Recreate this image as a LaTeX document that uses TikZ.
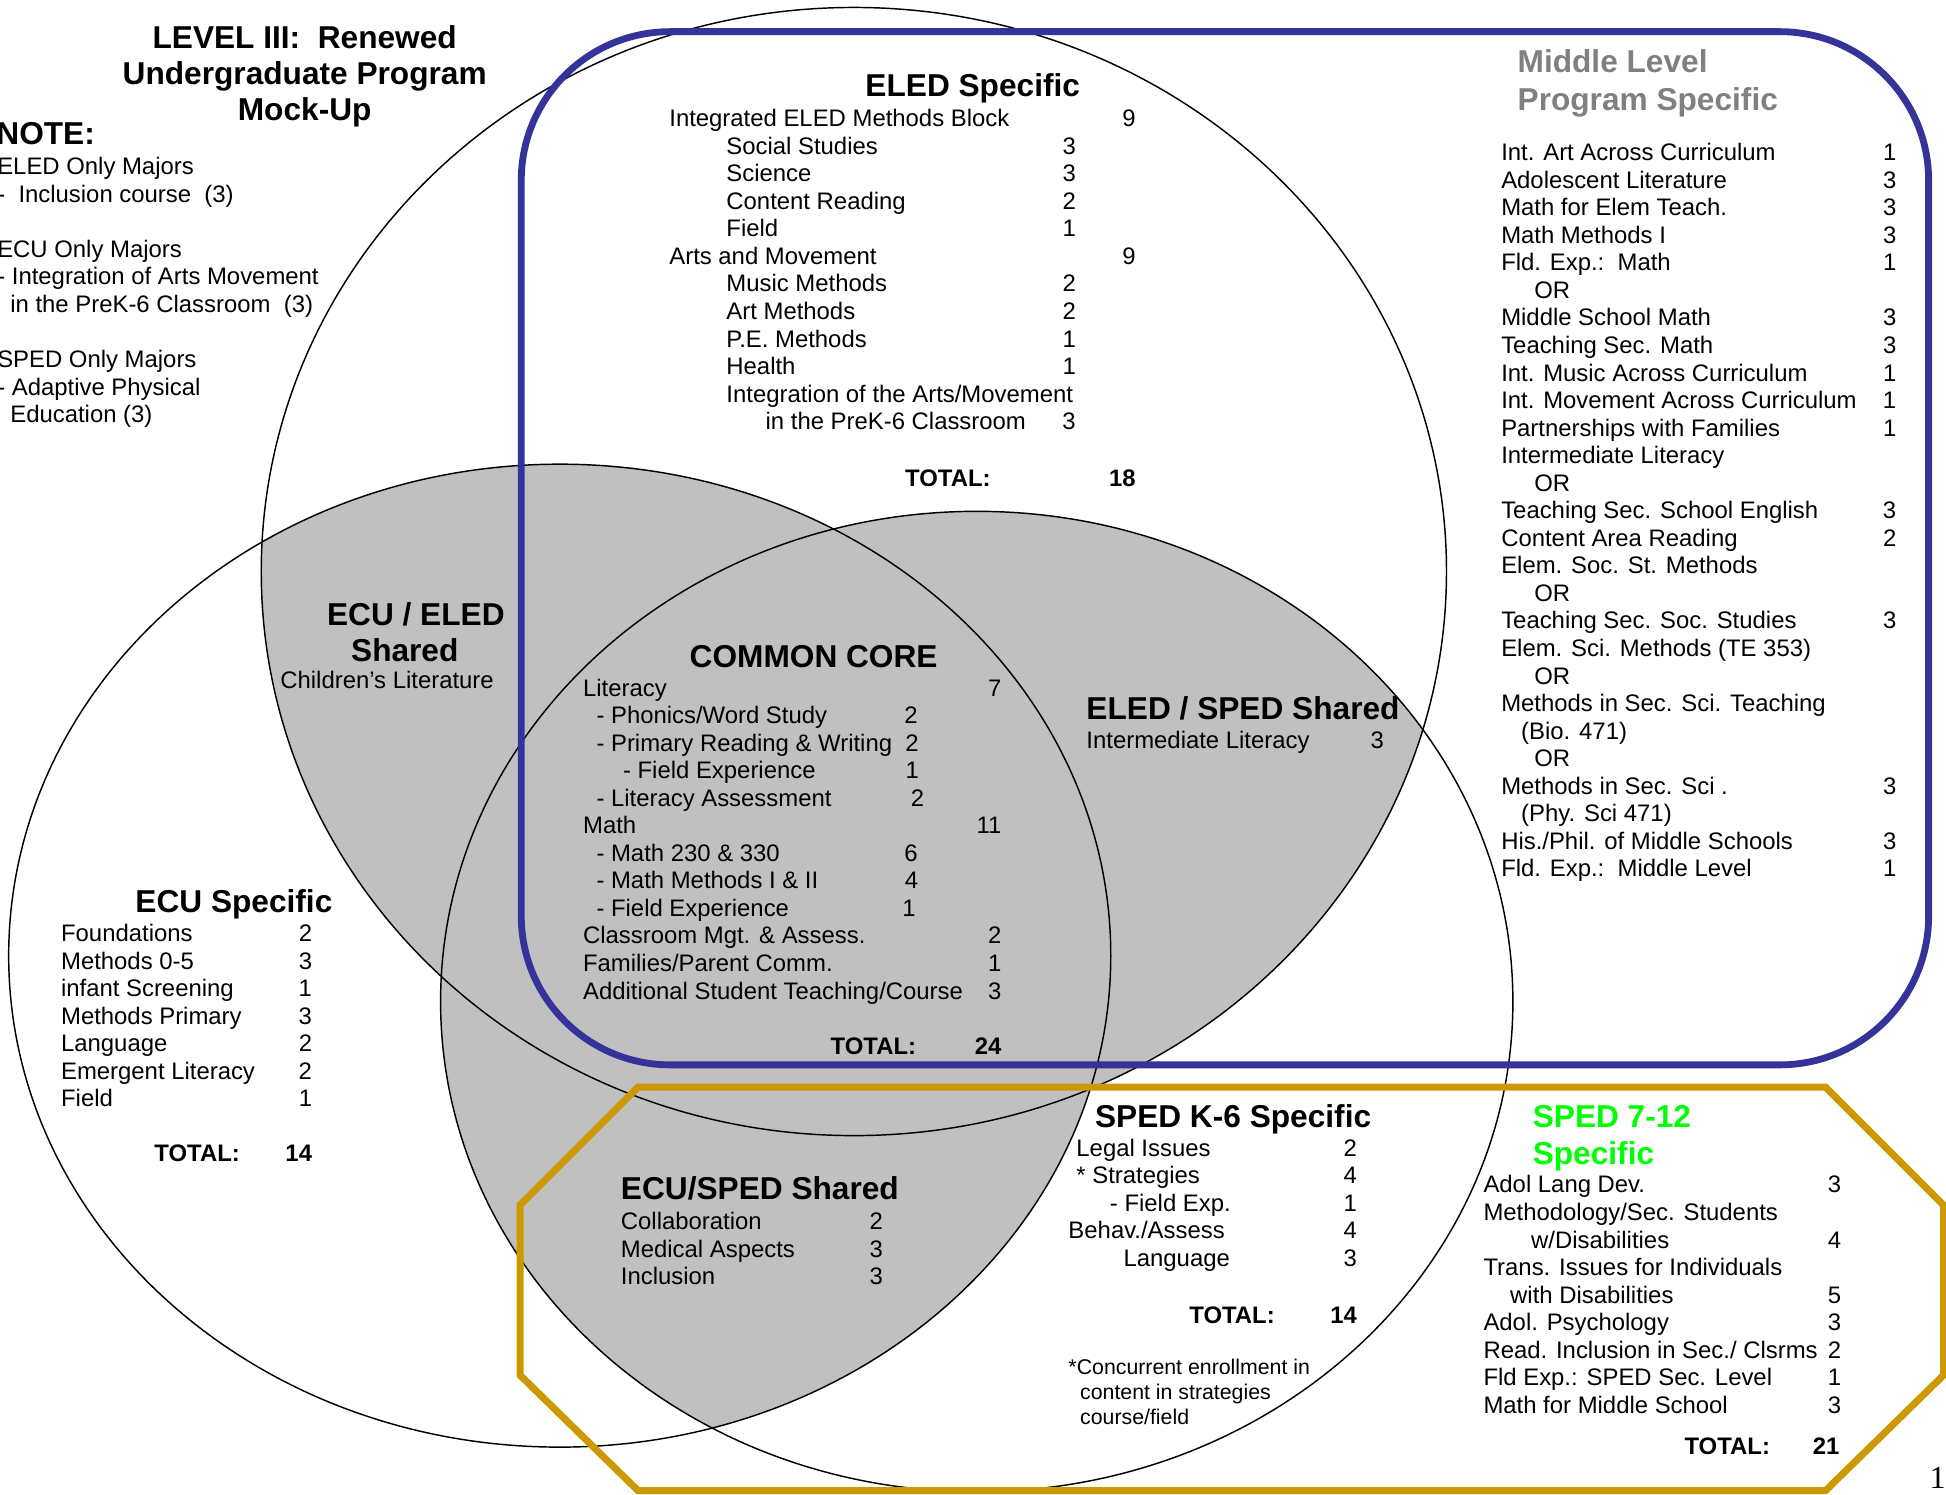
\documentclass[tikz,border=0pt]{standalone}
\usepackage{fontspec}
\setmainfont{Liberation Sans}
\newfontfamily\serifnum{Liberation Serif}
\definecolor{vblue}{RGB}{51,51,153}
\definecolor{vgold}{RGB}{204,153,0}
\definecolor{vgray}{RGB}{192,192,192}
\definecolor{vgreen}{RGB}{0,255,0}
\definecolor{mgray}{RGB}{128,128,128}
\newdimen\uu \uu=0.6pt
\newcommand\RowN[4]{\hbox to #3\uu{\hspace*{#1\uu}#2\hfil #4}}
\newcommand\RowT[2]{\hbox{\hspace*{#1\uu}#2}}
\newcommand\CtrL[1]{\hbox to 0pt{\hss #1\hss}}
\newcommand\bodyfont{\fontsize{11.55pt}{13.32pt}\selectfont}
\newcommand\titlefont{\fontsize{15.3pt}{17.3pt}\selectfont\bfseries}
\tikzset{
  circ/.style={draw=black, line width=0.7pt},
  blk/.style={anchor=base west, inner sep=0pt, font=\bodyfont, yshift=-0.6pt},
  ttl/.style={anchor=base west, inner sep=0pt, font=\titlefont, yshift=-1.2pt},
  tot/.style={anchor=base west, inner sep=0pt, font=\bodyfont\bfseries, yshift=-1.5pt},
  blueline/.style={draw=vblue, line width=3.3pt},
  goldline/.style={draw=vgold, line width=3.4pt, line join=miter},
}
\begin{document}
\begin{tikzpicture}[x=0.6pt, y=-0.6pt]
\useasboundingbox (0,0) rectangle (1568,1204);
% shaded pairwise intersections
\begin{scope}
  \clip (688,460.5) ellipse [x radius=477.5, y radius=454.5];
  \fill[vgray] (451,770) ellipse [x radius=444, y radius=396];
  \fill[vgray] (787,807) ellipse [x radius=432, y radius=395];
\end{scope}
\begin{scope}
  \clip (451,770) ellipse [x radius=444, y radius=396];
  \fill[vgray] (787,807) ellipse [x radius=432, y radius=395];
\end{scope}
% circles
\draw[circ] (688,460.5) ellipse [x radius=477.5, y radius=454.5];
\draw[circ] (451,770) ellipse [x radius=444, y radius=396];
\draw[circ] (787,807) ellipse [x radius=432, y radius=395];
% blue rounded box and gold octagon
\draw[blueline, rounded corners=72pt] (420,25.5) rectangle (1554,858);
\draw[goldline] (514,876) -- (1471,876) -- (1566,971) -- (1566,1108) -- (1471,1201) -- (514,1201) -- (419,1108) -- (419,971) -- cycle;

% top-left title and note
\node[anchor=base, inner sep=0pt, font=\titlefont, yshift=-1pt] (title) at (245.5,37.6)
  {\vtop{\CtrL{LEVEL III:\ \ Renewed}\CtrL{Undergraduate Program}\CtrL{Mock-Up}}};
\node[ttl] (note) at (-3.2,114.2) {NOTE:};
\node[blk] (notes) at (-2.5,139.7) {\vtop{%
  \RowT{0}{ELED Only Majors}
  \RowT{0}{-\ \ Inclusion course\ \ (3)}
  \hbox{}
  \RowT{0}{ECU Only Majors}
  \RowT{0}{- Integration of Arts Movement}
  \RowT{10.5}{in the PreK-6 Classroom\ \ (3)}
  \hbox{}
  \RowT{0}{SPED Only Majors}
  \RowT{0}{- Adaptive Physical}
  \RowT{10.5}{Education (3)}}};

% ELED specific
\node[ttl] (eledT) at (697,75.5) {ELED Specific};
\node[blk] (eledL) at (539,101) {\vtop{%
  \RowN{0}{Integrated ELED Methods Block}{375.7}{9}
  \RowN{46}{Social Studies}{327.5}{3}
  \RowN{46}{Science}{327.5}{3}
  \RowN{46}{Content Reading}{327.5}{2}
  \RowN{46}{Field}{327.5}{1}
  \RowN{0}{Arts and Movement}{375.7}{9}
  \RowN{46}{Music Methods}{327.5}{2}
  \RowN{46}{Art Methods}{327.5}{2}
  \RowN{46}{P.E. Methods}{327.5}{1}
  \RowN{46}{Health}{327.5}{1}
  \RowT{46}{Integration of the Arts/Movement}
  \RowN{77.6}{in the PreK-6 Classroom}{327.5}{3}}};
\node[tot] (eledTot) at (729,389.7) {\hbox to 185.7\uu{TOTAL:\hfil 18}};

% Middle level
\node[ttl, text=mgray] (midT) at (1222.5,56.4)
  {\vtop{\baselineskip=18.5pt\hbox{Middle Level}\hbox{Program Specific}}};
\node[blk] (midL) at (1209.3,128.4) {\vtop{%
  \RowN{0}{Int. Art Across Curriculum}{318.3}{1}
  \RowN{0}{Adolescent Literature}{318.3}{3}
  \RowN{0}{Math for Elem Teach.}{318.3}{3}
  \RowN{0}{Math Methods I}{318.3}{3}
  \RowN{0}{Fld. Exp.:\ \ Math}{318.3}{1}
  \RowT{26.7}{OR}
  \RowN{0}{Middle School Math}{318.3}{3}
  \RowN{0}{Teaching Sec. Math}{318.3}{3}
  \RowN{0}{Int. Music Across Curriculum}{318.3}{1}
  \RowN{0}{Int. Movement Across Curriculum}{318.3}{1}
  \RowN{0}{Partnerships with Families}{318.3}{1}
  \RowT{0}{Intermediate Literacy}
  \RowT{26.7}{OR}
  \RowN{0}{Teaching Sec. School English}{318.3}{3}
  \RowN{0}{Content Area Reading}{318.3}{2}
  \RowT{0}{Elem. Soc. St. Methods}
  \RowT{26.7}{OR}
  \RowN{0}{Teaching Sec. Soc. Studies}{318.3}{3}
  \RowT{0}{Elem. Sci. Methods (TE 353)}
  \RowT{26.7}{OR}
  \RowT{0}{Methods in Sec. Sci. Teaching}
  \RowT{16.1}{(Bio. 471)}
  \RowT{26.7}{OR}
  \RowN{0}{Methods in Sec. Sci .}{318.3}{3}
  \RowT{16.1}{(Phy. Sci 471)}
  \RowN{0}{His./Phil. of Middle Schools}{318.3}{3}
  \RowN{0}{Fld. Exp.:\ \ Middle Level}{318.3}{1}}};

% ECU / ELED shared
\node[ttl] (ecueledT) at (263.2,502)
  {\vtop{\hbox{ECU / ELED}\hbox{\hspace*{19.4\uu}Shared}}};
\node[blk] (ecueledL) at (225.6,554) {Children’s Literature};

% Common core
\node[ttl] (coreT) at (555.4,535.6) {COMMON CORE};
\node[blk] (coreL) at (469.5,559.8) {\vtop{%
  \RowN{0}{Literacy}{337.1}{7}
  \RowN{10.8}{- Phonics/Word Study}{269.5}{2}
  \RowN{10.8}{- Primary Reading \& Writing}{270.5}{2}
  \RowN{32.2}{- Field Experience}{270.5}{1}
  \RowN{10.8}{- Literacy Assessment}{274.8}{2}
  \RowN{0}{Math}{337.1}{11}
  \RowN{10.8}{- Math 230 \& 330}{269.5}{6}
  \RowN{10.8}{- Math Methods I \& II}{270}{4}
  \RowN{10.8}{- Field Experience}{268}{1}
  \RowN{0}{Classroom Mgt. \& Assess.}{337.1}{2}
  \RowN{0}{Families/Parent Comm.}{337.1}{1}
  \RowN{0}{Additional Student Teaching/Course}{337.1}{3}}};
\node[tot] (coreTot) at (669,847.2) {\hbox to 137.6\uu{TOTAL:\hfil 24}};

% ELED / SPED shared
\node[ttl] (eledspedT) at (875.1,578) {ELED / SPED Shared};
\node[blk] (eledspedL) at (875.1,601.7) {\RowN{0}{Intermediate Literacy}{239.6}{3}};

% ECU specific
\node[ttl] (ecuT) at (108.8,733.1) {ECU Specific};
\node[blk] (ecuL) at (48.9,757.6) {\vtop{%
  \RowN{0}{Foundations}{202.2}{2}
  \RowN{0}{Methods 0-5}{202.2}{3}
  \RowN{0}{infant Screening}{202.2}{1}
  \RowN{0}{Methods Primary}{202.2}{3}
  \RowN{0}{Language}{202.2}{2}
  \RowN{0}{Emergent Literacy}{202.2}{2}
  \RowN{0}{Field}{202.2}{1}}};
\node[tot] (ecuTot) at (124.1,933.7) {\hbox to 127\uu{TOTAL:\hfil 14}};

% ECU / SPED shared
\node[ttl] (ecuspedT) at (500,964.3) {ECU/SPED Shared};
\node[blk] (ecuspedL) at (500,989.8) {\vtop{%
  \RowN{0}{Collaboration}{211}{2}
  \RowN{0}{Medical Aspects}{211}{3}
  \RowN{0}{Inclusion}{211}{3}}};

% SPED K-6 specific
\node[ttl] (spedkT) at (882,906.5) {SPED K-6 Specific};
\node[blk] (spedkL) at (860.6,930.7) {\vtop{%
  \RowN{6.4}{Legal Issues}{232.4}{2}
  \RowN{6.4}{* Strategies}{232.4}{4}
  \RowN{33.4}{- Field Exp.}{232.4}{1}
  \RowN{0}{Behav./Assess}{232.4}{4}
  \RowN{44.4}{Language}{232.4}{3}}};
\node[tot] (spedkTot) at (958,1063.7) {\hbox to 135\uu{TOTAL:\hfil 14}};
\node[anchor=base west, inner sep=0pt, font=\fontsize{10.3pt}{12.1pt}\selectfont, yshift=-0.6pt] (spedkNote) at (860.6,1106.6) {\vtop{%
  \RowT{0}{*Concurrent enrollment in}
  \RowT{9.4}{content in strategies}
  \RowT{9.4}{course/field}}};

% SPED 7-12 specific
\node[ttl, text=vgreen] (spedsT) at (1234.7,906.5)
  {\vtop{\baselineskip=17.7pt\hbox{SPED 7-12}\hbox{Specific}}};
\node[blk] (spedsL) at (1195,960.2) {\vtop{%
  \RowN{0}{Adol Lang Dev.}{288.2}{3}
  \RowT{0}{Methodology/Sec. Students}
  \RowN{38.4}{w/Disabilities}{288.2}{4}
  \RowT{0}{Trans. Issues for Individuals}
  \RowN{21.5}{with Disabilities}{288.2}{5}
  \RowN{0}{Adol. Psychology}{288.2}{3}
  \RowN{0}{Read. Inclusion in Sec./ Clsrms}{288.2}{2}
  \RowN{0}{Fld Exp.: SPED Sec. Level}{288.2}{1}
  \RowN{0}{Math for Middle School}{288.2}{3}}};
\node[tot] (spedsTot) at (1357,1169.8) {\hbox to 124.8\uu{TOTAL:\hfil 21}};

% page number
\node[anchor=base west, inner sep=0pt, font=\serifnum\fontsize{15.5pt}{18pt}\selectfont] (pg) at (1554.5,1199.3) {1};
\end{tikzpicture}
\end{document}
